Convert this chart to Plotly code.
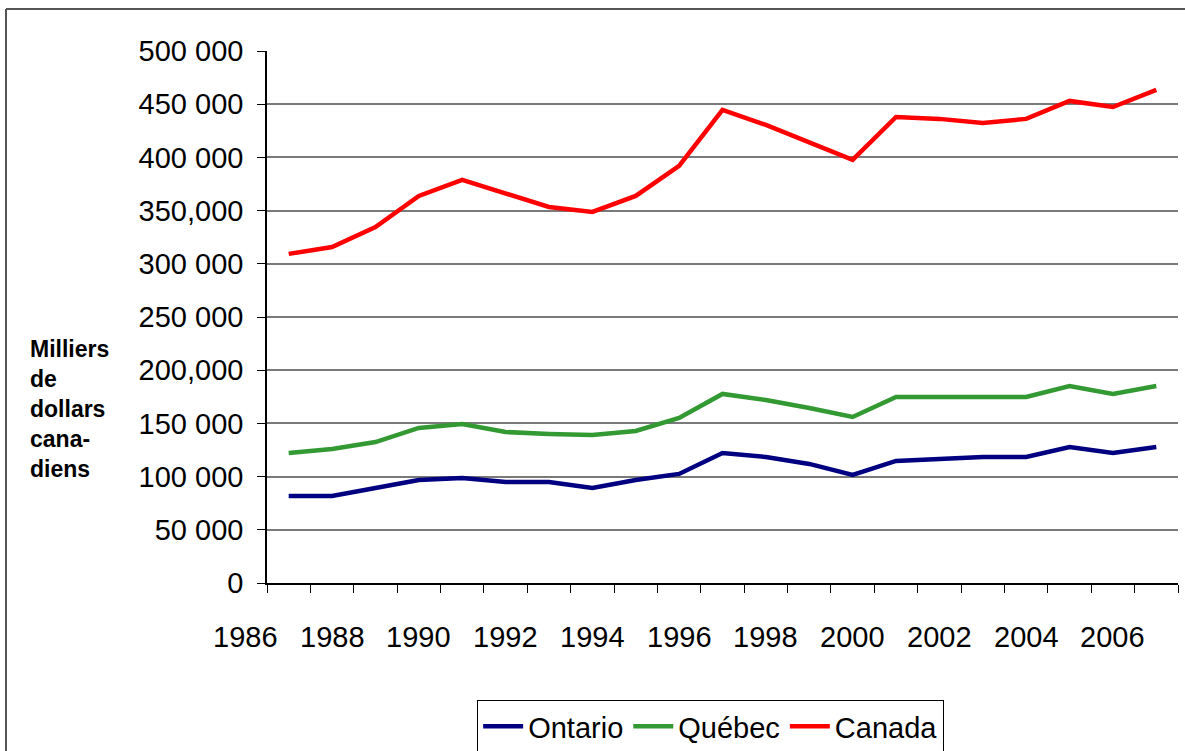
import plotly.graph_objects as go

years = list(range(1987, 2008))
ontario = [81800, 81800, 89300, 96800, 98700, 94900, 94900, 89300, 96800, 102500,
           122200, 118400, 111900, 101500, 114700, 116600, 118400, 118400, 127800, 122200, 127800]
quebec = [122200, 126000, 132500, 145700, 149500, 141900, 140100, 139100, 142900, 155100,
          177700, 172000, 164500, 156000, 174800, 174800, 174800, 174800, 185200, 177700, 185200]
canada = [309300, 315800, 334600, 363800, 378800, 365700, 353400, 348700, 363800, 392000,
          444600, 430500, 413600, 397600, 438000, 436200, 432400, 436200, 453100, 447400, 463400]

series_names = ["Ontario", "Québec", "Canada"]
series_colors = ["#000080", "#339933", "#FF0000"]

y_tickvals = [0, 50000, 100000, 150000, 200000, 250000, 300000, 350000, 400000, 450000, 500000]
y_ticktext = ["0", "50 000", "100 000", "150 000", "200,000", "250 000",
              "300 000", "350,000", "400 000", "450 000", "500 000"]
x_label_years = [1986, 1988, 1990, 1992, 1994, 1996, 1998, 2000, 2002, 2004, 2006]
y_title_lines = ["Milliers", "de", "dollars", "cana-", "diens"]

FONT = "Arial, Liberation Sans, sans-serif"
XMIN, XMAX = 1986.5, 2007.5

fig = go.Figure()
for name, vals, col in zip(series_names, [ontario, quebec, canada], series_colors):
    fig.add_trace(go.Scatter(x=years, y=vals, name=name, mode="lines",
                             line=dict(color=col, width=4.5)))

# x tick marks between categories
x_tickmarks = [y - 0.5 for y in years] + [years[-1] + 0.5]

fig.update_layout(
    width=1185, height=751,
    margin=dict(l=267, r=7, t=51, b=168, autoexpand=False),
    paper_bgcolor="white", plot_bgcolor="white",
    font=dict(family=FONT, size=29, color="black"),
    showlegend=True,
    legend=dict(orientation="h", x=0.487, y=(583 - 700) / 532, xanchor="center", yanchor="top",
                bordercolor="black", borderwidth=1, font=dict(size=29, family=FONT),
                itemwidth=40, tracegroupgap=0),
    xaxis=dict(range=[XMIN, XMAX], tickmode="array", tickvals=x_tickmarks,
               showticklabels=False, ticks="outside", ticklen=8, tickcolor="black",
               showline=True, linecolor="black", linewidth=1.5, showgrid=False,
               zeroline=False, automargin=False),
    yaxis=dict(range=[0, 500000], tickmode="array", tickvals=y_tickvals,
               ticktext=y_ticktext, ticks="outside", ticklen=8, tickcolor="black",
               showline=True, linecolor="black", linewidth=1.5,
               showgrid=True, gridcolor="#7a7a7a", gridwidth=1.5, zeroline=False,
               ticklabelstandoff=8, tickfont=dict(size=29, family=FONT),
               automargin=False),
)

label_y = (583 - 637) / 532
for yr in x_label_years:
    fig.add_annotation(x=(yr - XMIN) / (XMAX - XMIN), y=label_y, xref="paper", yref="paper",
                       yanchor="middle", xanchor="center",
                       text=str(yr), showarrow=False, font=dict(size=29, family=FONT))

fig.add_annotation(x=(28 - 267) / 911, y=(583 - 334) / 532, xref="paper", yref="paper",
                   xanchor="left", yanchor="top", align="left", showarrow=False,
                   text="<b>" + "<br>".join(y_title_lines) + "</b>",
                   font=dict(size=23, family=FONT))

# chart border (left and top edges only are visible in the reference)
bx0 = (6 - 267) / 911
bx1 = (1185 - 267) / 911
by0 = (583 - 751) / 532
by1 = (583 - 9) / 532
fig.add_shape(type="line", xref="paper", yref="paper", x0=bx0, x1=bx0, y0=by0, y1=by1,
              line=dict(color="#555555", width=2))
fig.add_shape(type="line", xref="paper", yref="paper", x0=bx0, x1=bx1, y0=by1, y1=by1,
              line=dict(color="#555555", width=2))

fig.write_html("out.html", config={"displayModeBar": False},
               post_script="document.body.style.margin='0';document.body.style.overflow='hidden';")
